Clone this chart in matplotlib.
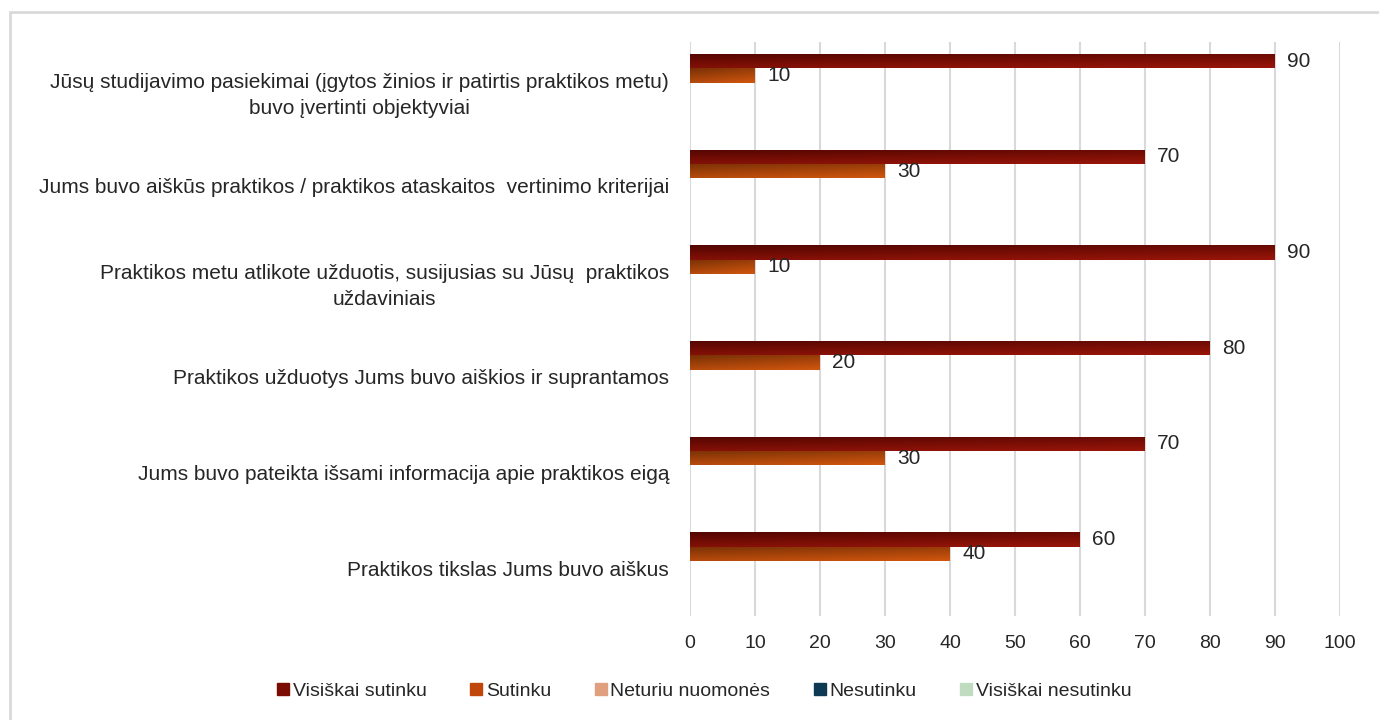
import numpy as np
import matplotlib
matplotlib.use("Agg")
import matplotlib.pyplot as plt
from matplotlib.patches import Rectangle
from matplotlib.lines import Line2D
from matplotlib.colors import to_rgb

plt.rcParams["font.family"] = ["Liberation Sans", "DejaVu Sans"]

# categories listed bottom -> top
categories = [
    "Praktikos tikslas Jums buvo aiškus",
    "Jums buvo pateikta išsami informacija apie praktikos eigą",
    "Praktikos užduotys Jums buvo aiškios ir suprantamos",
    "Praktikos metu atlikote užduotis, susijusias su Jūsų  praktikos\nuždaviniais",
    "Jums buvo aiškūs praktikos / praktikos ataskaitos  vertinimo kriterijai",
    "Jūsų studijavimo pasiekimai (įgytos žinios ir patirtis praktikos metu)\nbuvo įvertinti objektyviai",
]
series_names = ["Visiškai sutinku", "Sutinku", "Neturiu nuomonės", "Nesutinku", "Visiškai nesutinku"]
visiskai_sutinku = [60, 70, 80, 90, 70, 90]
sutinku = [40, 30, 20, 10, 30, 10]
neturiu_nuomones = [0, 0, 0, 0, 0, 0]
nesutinku = [0, 0, 0, 0, 0, 0]
visiskai_nesutinku = [0, 0, 0, 0, 0, 0]
series_values = [visiskai_sutinku, sutinku, neturiu_nuomones, nesutinku, visiskai_nesutinku]

legend_colors = ["#7b0c02", "#c0470a", "#e0a080", "#0d3a52", "#c0dcc0"]
# (top-left, bottom-right) gradient colours for the bars
grad_colors = [
    ("#520600", "#9a150a"),
    ("#783006", "#d2560e"),
    ("#c07050", "#f0b898"),
    ("#082838", "#134a68"),
    ("#a8cca8", "#d0e8d0"),
]

fig = plt.figure(figsize=(13.79, 7.2), dpi=100)
ax = fig.add_axes([690 / 1379, 1 - 616 / 720, 650 / 1379, 574 / 720])

# light frame around the chart area
fig.patches.append(Rectangle((10 / 1379, -0.1), 1.2, 1 - 12 / 720 + 0.1,
                             transform=fig.transFigure, fill=False,
                             edgecolor="#d9d9d9", lw=2, zorder=0))

y = np.arange(len(categories))
h = 0.15


def gradient(c1, c2, n=64):
    c1, c2 = np.array(to_rgb(c1)), np.array(to_rgb(c2))
    gx, gy = np.meshgrid(np.linspace(0, 1, n), np.linspace(0, 1, n))
    t = (0.7 * gy + 0.3 * gx)[..., None]
    return c1 * (1 - t) + c2 * t


for i, vals in enumerate(series_values):
    pos = y + (2 - i) * h
    bars = ax.barh(pos, vals, height=h, color=legend_colors[i], zorder=2)
    img = gradient(*grad_colors[i])
    for b, v in zip(bars, vals):
        if v <= 0:
            continue
        x0, y0 = b.get_x(), b.get_y()
        im = ax.imshow(img, extent=(x0, x0 + b.get_width(), y0, y0 + b.get_height()),
                       origin="upper", aspect="auto", zorder=3, interpolation="bilinear")
        im.set_clip_path(b)
        ax.text(v + 1.9, b.get_y() + h / 2, str(v), va="center", ha="left",
                fontsize=15, color="#262626", zorder=4)

ax.set_xlim(0, 100)
ax.set_ylim(-0.5, len(categories) - 0.5)
ax.set_xticks(np.arange(0, 101, 10))
ax.set_yticks(y)
ax.set_yticklabels(categories, multialignment="center", fontsize=15, linespacing=1.45)
ax.tick_params(axis="both", length=0, colors="#262626")
ax.tick_params(axis="x", pad=14, labelsize=14)
ax.tick_params(axis="y", pad=15)
for s in ax.spines.values():
    s.set_visible(False)
ax.grid(axis="x", color="#d9d9d9", lw=1.5, zorder=0)
ax.set_axisbelow(True)

handles = [Line2D([], [], marker="s", ls="none", markersize=8, markerfacecolor=c,
                  markeredgecolor=c) for c in legend_colors]
fig.legend(handles, series_names, loc="center", bbox_to_anchor=(0.51, 1 - 691 / 720),
           ncol=5, frameon=False, fontsize=14, handletextpad=0.1, columnspacing=2.15,
           handlelength=0.8, labelcolor="#262626")

fig.savefig("out.png", dpi=100)
